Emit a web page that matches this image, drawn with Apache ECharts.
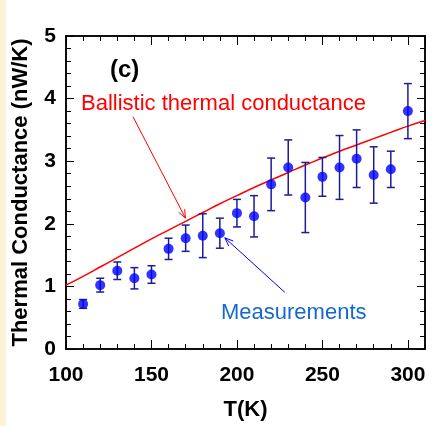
<!DOCTYPE html>
<html>
<head>
<meta charset="utf-8">
<script src="https://cdn.jsdelivr.net/npm/echarts@6/dist/echarts.min.js"></script>
<style>
html,body{margin:0;padding:0;background:#fff;}
#chart{width:436px;height:426px;}
</style>
</head>
<body>
<div id="chart"></div>
<script>
// Measured data
const temps = [110,120,130,140,150,160,170,180,190,200,210,220,230,240,250,260,270,280,290,300];
const conductance = [0.72,1.02,1.25,1.13,1.19,1.60,1.77,1.81,1.85,2.17,2.12,2.63,2.90,2.42,2.75,2.90,3.04,2.78,2.87,3.80];
const errors = [0.07,0.11,0.14,0.17,0.14,0.17,0.21,0.35,0.24,0.22,0.33,0.42,0.44,0.56,0.31,0.51,0.46,0.45,0.29,0.44];
// Ballistic thermal conductance curve
const ballisticT = [100,110,120,130,140,150,160,170,180,190,200,210,220,230,240,250,260,270,280,290,300,310];
const ballisticG = [1.02,1.16,1.31,1.46,1.61,1.76,1.90,2.04,2.18,2.32,2.45,2.58,2.70,2.82,2.94,3.05,3.16,3.26,3.36,3.46,3.56,3.65];
// Axis settings
const xMin = 100, xMax = 310, xMajor = 50, xMinor = 10;
const yMin = 0, yMax = 5, yMajor = 1, yMinor = 0.2;
// Annotation arrows in data coordinates: [x1, y1, x2, y2]
const redArrow = [139.2, 3.71, 169.9, 2.09];
const blueArrow = [228.0, 0.905, 192.9, 1.776];

const chart = echarts.init(document.getElementById('chart'));
const font = '"Liberation Sans", Arial, sans-serif';
const axisLineStyle = {color:'#000', width:1.5};

function xAxisDef(pos, interval, len, labels){
  return {
    type:'value', position:pos, min:xMin, max:xMax, interval:interval,
    axisLine:{show:true, onZero:false, lineStyle:axisLineStyle},
    axisTick:{show:true, inside:true, length:len, lineStyle:{color:'#000', width:1}},
    axisLabel:{show:labels, fontFamily:font, fontWeight:'bold', fontSize:21, color:'#000', margin:16, showMaxLabel:false},
    splitLine:{show:false},
    name: labels ? 'T(K)' : '',
    nameLocation:'middle', nameGap:50,
    nameTextStyle:{fontFamily:font, fontWeight:'bold', fontSize:22, color:'#000'}
  };
}
function yAxisDef(pos, interval, len, labels){
  return {
    type:'value', position:pos, min:yMin, max:yMax, interval:interval,
    axisLine:{show:true, onZero:false, lineStyle:axisLineStyle},
    axisTick:{show:true, inside:true, length:len, lineStyle:{color:'#000', width:1}},
    axisLabel:{show:labels, fontFamily:font, fontWeight:'bold', fontSize:21, color:'#000', margin:10},
    splitLine:{show:false},
    name: labels ? 'Thermal Conductance (nW/K)' : '',
    nameLocation:'middle', nameGap:34,
    nameTextStyle:{fontFamily:font, fontWeight:'bold', fontSize:22, color:'#000'}
  };
}

const arrowRender = function(params, api){
  const p1 = api.coord([api.value(0), api.value(1)]);
  const p2 = api.coord([api.value(2), api.value(3)]);
  const color = params.seriesName === 'redArrow' ? '#ff0000' : '#0000ff';
  const ang = Math.atan2(p2[1]-p1[1], p2[0]-p1[0]);
  const hl = 9, spread = 0.38;
  const h1 = [p2[0]-hl*Math.cos(ang-spread), p2[1]-hl*Math.sin(ang-spread)];
  const h2 = [p2[0]-hl*Math.cos(ang+spread), p2[1]-hl*Math.sin(ang+spread)];
  return {type:'group', children:[
    {type:'line', shape:{x1:p1[0],y1:p1[1],x2:p2[0],y2:p2[1]}, style:{stroke:color, lineWidth:1}},
    {type:'polyline', shape:{points:[h1,p2,h2]}, style:{stroke:color, lineWidth:1, fill:null}}
  ]};
};

const option = {
  backgroundColor:'#ffffff',
  animation:false,
  grid:{left:66, right:11, top:36, bottom:71, containLabel:false},
  xAxis:[
    xAxisDef('bottom', xMinor, 5, false),
    xAxisDef('bottom', xMajor, 9, true),
    xAxisDef('top', xMinor, 5, false),
    xAxisDef('top', xMajor, 9, false)
  ],
  yAxis:[
    yAxisDef('left', yMajor, 8, true),
    yAxisDef('left', yMinor, 5, false),
    yAxisDef('right', yMajor, 8, false),
    yAxisDef('right', yMinor, 5, false)
  ],
  graphic:[
    {type:'rect', left:0, top:0, shape:{width:6, height:426}, style:{fill:'#fcf3d6'}, z:-10},
    {type:'text', left:110, top:58, style:{text:'(c)', fontFamily:font, fontWeight:'bold', fontSize:24, fill:'#000'}},
    {type:'text', left:81, top:93, style:{text:'Ballistic thermal conductance', fontFamily:font, fontSize:22, fill:'#ff0000'}},
    {type:'text', left:221, top:302, style:{text:'Measurements', fontFamily:font, fontSize:22, fill:'#1468d0'}}
  ],
  series:[
    {
      name:'ballistic', type:'line', xAxisIndex:1, yAxisIndex:0,
      data: ballisticT.map((t,i)=>[t, ballisticG[i]]),
      showSymbol:false, smooth:true,
      lineStyle:{color:'#ff0000', width:1.5}, z:3
    },
    {
      name:'errors', type:'custom', xAxisIndex:1, yAxisIndex:0,
      data: temps.map((t,i)=>[t, conductance[i], errors[i]]),
      renderItem:function(params, api){
        const x = api.value(0), y = api.value(1), e = api.value(2);
        const top = api.coord([x, y+e]);
        const bot = api.coord([x, y-e]);
        const hw = 4;
        const st = {stroke:'#1c1c96', lineWidth:1.5};
        return {type:'group', children:[
          {type:'line', shape:{x1:top[0],y1:top[1],x2:bot[0],y2:bot[1]}, style:st},
          {type:'line', shape:{x1:top[0]-hw,y1:top[1],x2:top[0]+hw,y2:top[1]}, style:st},
          {type:'line', shape:{x1:bot[0]-hw,y1:bot[1],x2:bot[0]+hw,y2:bot[1]}, style:st}
        ]};
      },
      z:4
    },
    {
      name:'measured', type:'scatter', xAxisIndex:1, yAxisIndex:0,
      data: temps.map((t,i)=>[t, conductance[i]]),
      symbol:'circle', symbolSize:10,
      itemStyle:{color:'#0000ff'}, z:5
    },
    {
      name:'redArrow', type:'custom', xAxisIndex:1, yAxisIndex:0,
      data:[redArrow], renderItem:arrowRender, z:6
    },
    {
      name:'blueArrow', type:'custom', xAxisIndex:1, yAxisIndex:0,
      data:[blueArrow], renderItem:arrowRender, z:6
    }
  ]
};
chart.setOption(option);
</script>
</body>
</html>
